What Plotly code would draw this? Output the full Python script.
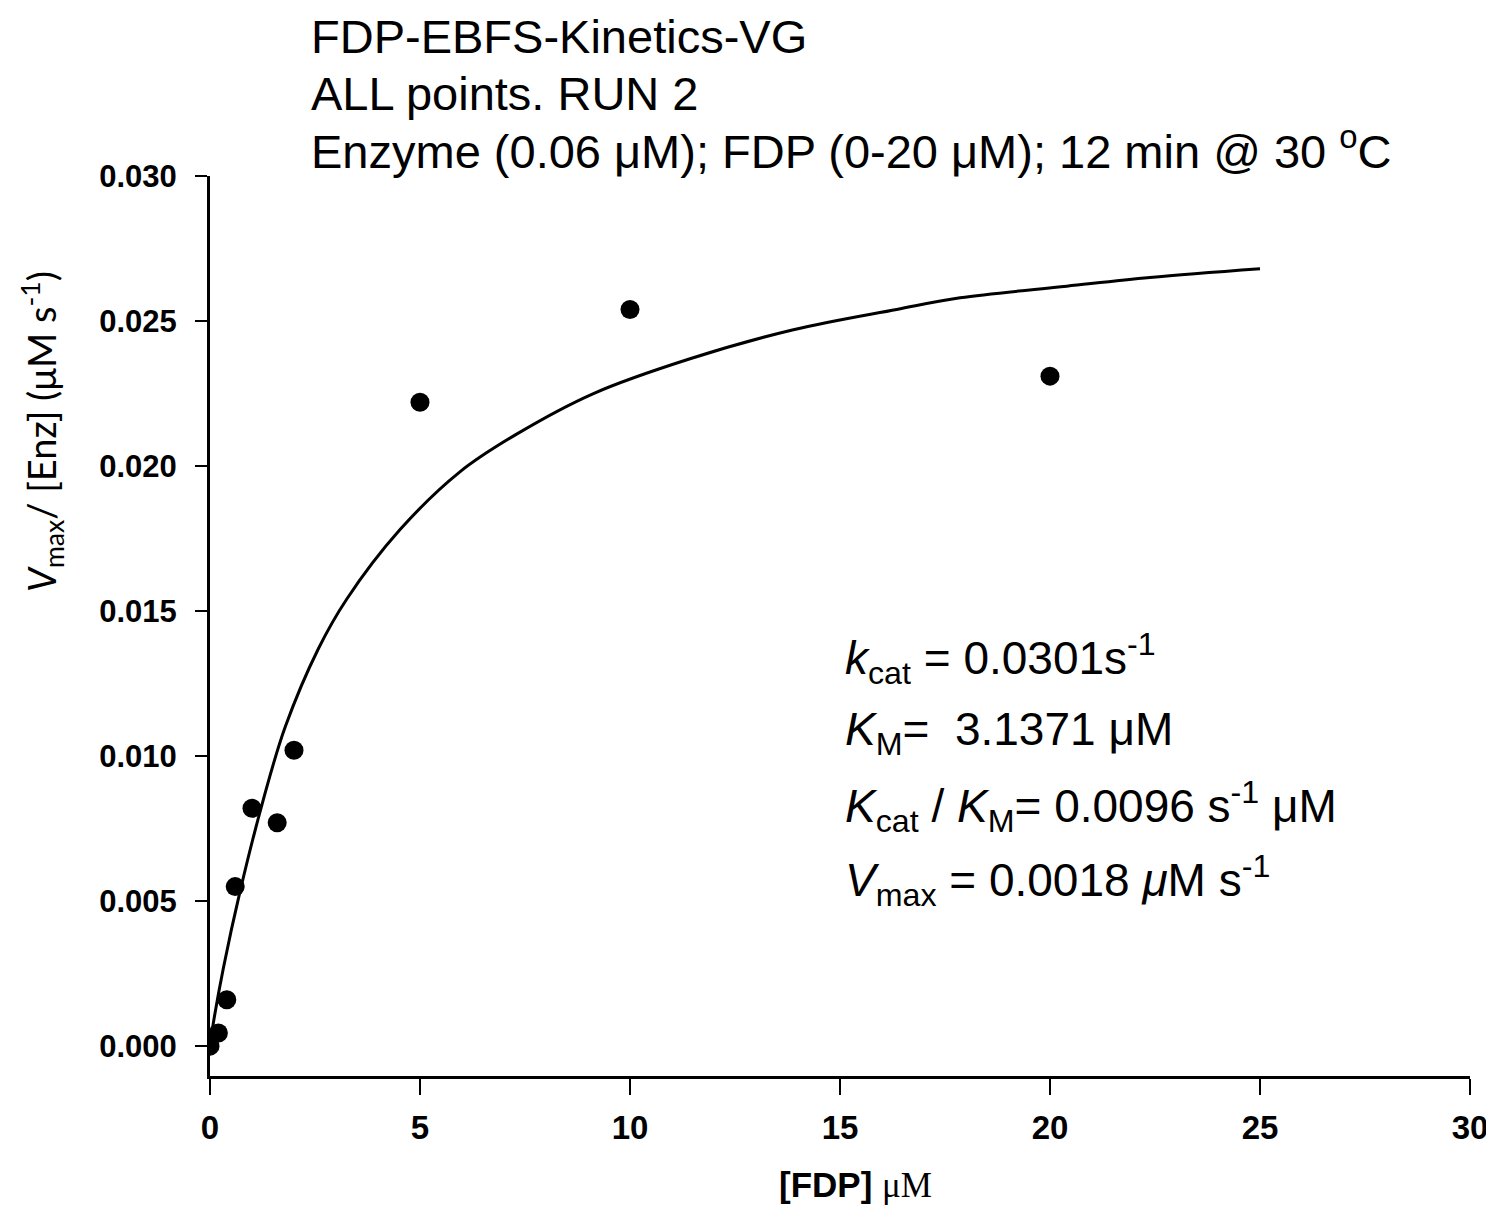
import plotly.graph_objects as go

fdp_uM = [0, 0.2, 0.4, 0.6, 1.0, 1.6, 2.0, 5, 10, 20]
rate = [0.0000, 0.00045, 0.0016, 0.0055, 0.0082, 0.0077, 0.0102, 0.0222, 0.0254, 0.0231]

# Fitted curve
fit_x = [0, 0.08, 0.32, 0.71, 1.27, 1.79, 2.58, 3.25, 4.52, 5.95, 7.30, 9.13,
         11.43, 13.89, 16.35, 17.86, 20.4, 22.38, 25.0]
fit_y = [0.0, 0.0008, 0.0027, 0.0053, 0.0085, 0.0110, 0.0137, 0.0154, 0.0178,
         0.0198, 0.0211, 0.0225, 0.0237, 0.0247, 0.0254, 0.0258, 0.0262, 0.0265, 0.0268]

x_ticks = [0, 5, 10, 15, 20, 25, 30]
y_ticks = [0.000, 0.005, 0.010, 0.015, 0.020, 0.025, 0.030]

title_lines = [
    "FDP-EBFS-Kinetics-VG",
    "ALL points. RUN 2",
    "Enzyme (0.06 μM); FDP (0-20 μM); 12 min @ 30 <sup>o</sup>C",
]
param_lines = [
    "<i>k</i><sub>cat</sub> = 0.0301s<sup>-1</sup>",
    "<i>K</i><sub>M</sub>=  3.1371 μM",
    "<i>K</i><sub>cat</sub> / <i>K</i><sub>M</sub>= 0.0096 s<sup>-1</sup> μM",
    "<i>V</i><sub>max</sub> = 0.0018 <i>μ</i>M s<sup>-1</sup>",
]

fig = go.Figure()
fig.add_trace(go.Scatter(x=fit_x, y=fit_y, mode="lines",
                         line=dict(color="black", width=3, shape="spline"),
                         showlegend=False, hoverinfo="skip"))
fig.add_trace(go.Scatter(x=fdp_uM, y=rate, mode="markers",
                         marker=dict(color="black", size=19),
                         showlegend=False))

OFF = 8  # page body margin (top/left)
W, H = 1494 - OFF, 1211 - OFF
L, R, T, B = 210 - OFF, 1470 - OFF, 176 - OFF, 1076 - OFF
pw, ph = R - L, B - T


def px(xp):
    return (xp - OFF - L) / pw


def py(yp):
    return (B - (yp - OFF)) / ph


fig.update_layout(
    width=W, height=H,
    margin=dict(l=L, r=W - R, t=T, b=H - B, autoexpand=False),
    plot_bgcolor="white", paper_bgcolor="white",
    font=dict(family="Liberation Sans, Arial", color="black"),
    xaxis=dict(range=[0, 30], tickvals=x_ticks, ticktext=[f"<b>{v}</b>" for v in x_ticks],
               showgrid=False, zeroline=False, showline=True, linecolor="black",
               linewidth=3, ticks="outside", ticklen=16, tickwidth=2, tickcolor="black",
               tickfont=dict(family="Liberation Sans, Arial", size=33, color="black"),
               ticklabelstandoff=4, ticklabeloverflow="allow", automargin=False),
    yaxis=dict(range=[-0.00103, 0.030], tickvals=y_ticks,
               ticktext=[f"<b>{v:.3f}</b>" for v in y_ticks],
               showgrid=False, zeroline=False, showline=True, linecolor="black",
               linewidth=3, ticks="outside", ticklen=12, tickwidth=2, tickcolor="black",
               tickfont=dict(family="Liberation Sans, Arial", size=31, color="black"),
               ticklabelstandoff=12, ticklabeloverflow="allow", automargin=False),
)

anns = []
title_y = [36, 94, 148]
for t, yy in zip(title_lines, title_y):
    anns.append(dict(text=t, x=px(309), y=py(yy), xref="paper", yref="paper",
                     xanchor="left", yanchor="middle", showarrow=False,
                     font=dict(family="Liberation Sans, Arial", size=47, color="black")))

param_y = [658, 733, 806, 880]
for t, yy in zip(param_lines, param_y):
    anns.append(dict(text=t, x=px(843), y=py(yy), xref="paper", yref="paper",
                     xanchor="left", yanchor="middle", showarrow=False,
                     font=dict(family="Liberation Sans, Arial", size=46, color="black")))

anns.append(dict(text="<b>[FDP]</b> <span style='font-family:Liberation Serif'>μM</span>",
                 x=px(855), y=py(1185), xref="paper", yref="paper",
                 xanchor="center", yanchor="middle", showarrow=False,
                 font=dict(family="Liberation Sans, Arial", size=35, color="black")))

anns.append(dict(text="<i>V</i><sub>max</sub>/ [Enz] (μM s<sup>-1</sup>)",
                 x=px(42), y=py(432), xref="paper", yref="paper",
                 xanchor="center", yanchor="middle", showarrow=False, textangle=-90,
                 font=dict(family="Lato, Open Sans", size=38, color="black")))

fig.update_layout(annotations=anns)
fig.write_html("out.html")
